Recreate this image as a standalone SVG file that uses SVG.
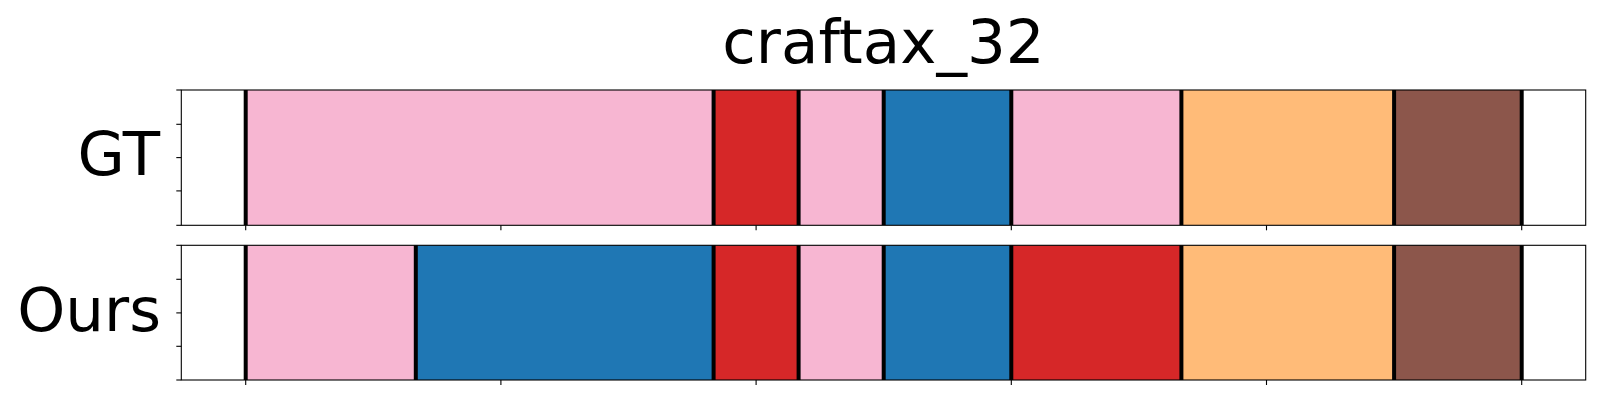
<svg xmlns="http://www.w3.org/2000/svg" width="1600" height="400" viewBox="0 0 1600 400">
<style>
  text { font-family: "DejaVu Sans", "Liberation Sans", sans-serif; fill: #000; font-size: 61.1px; }
  .pink { fill: #f7b6d2; }
  .red { fill: #d62728; }
  .blue { fill: #1f77b4; }
  .orange { fill: #ffbb78; }
  .brown { fill: #8c564b; }
  .sep { stroke: #000; stroke-width: 4; }
  .spine { fill: none; stroke: #000; stroke-width: 1.1; }
  .tick { stroke: #000; stroke-width: 1.1; }
</style>
<rect width="1600" height="400" fill="#fff"/>
<text x="883.5" y="62.7" text-anchor="middle">craftax_32</text>

<g id="gt">
  <rect class="pink" x="245.7" y="90" width="467.9" height="135"/>
  <rect class="red" x="713.6" y="90" width="85" height="135"/>
  <rect class="pink" x="798.6" y="90" width="85.1" height="135"/>
  <rect class="blue" x="883.7" y="90" width="127.6" height="135"/>
  <rect class="pink" x="1011.3" y="90" width="170.1" height="135"/>
  <rect class="orange" x="1181.4" y="90" width="212.7" height="135"/>
  <rect class="brown" x="1394.1" y="90" width="127.6" height="135"/>
  <g class="sep">
    <line x1="245.7" y1="90" x2="245.7" y2="225"/>
    <line x1="713.6" y1="90" x2="713.6" y2="225"/>
    <line x1="798.6" y1="90" x2="798.6" y2="225"/>
    <line x1="883.7" y1="90" x2="883.7" y2="225"/>
    <line x1="1011.3" y1="90" x2="1011.3" y2="225"/>
    <line x1="1181.4" y1="90" x2="1181.4" y2="225"/>
    <line x1="1394.1" y1="90" x2="1394.1" y2="225"/>
    <line x1="1521.7" y1="90" x2="1521.7" y2="225"/>
  </g>
  <rect class="spine" x="181.3" y="90" width="1404.4" height="135.3"/>
  <g class="tick">
    <line x1="176.3" y1="90" x2="181.3" y2="90"/>
    <line x1="176.3" y1="124.3" x2="181.3" y2="124.3"/>
    <line x1="176.3" y1="157.6" x2="181.3" y2="157.6"/>
    <line x1="176.3" y1="190.9" x2="181.3" y2="190.9"/>
    <line x1="176.3" y1="225.3" x2="181.3" y2="225.3"/>
    <line x1="245.7" y1="225.3" x2="245.7" y2="230.3"/>
    <line x1="500.9" y1="225.3" x2="500.9" y2="230.3"/>
    <line x1="756.1" y1="225.3" x2="756.1" y2="230.3"/>
    <line x1="1011.3" y1="225.3" x2="1011.3" y2="230.3"/>
    <line x1="1266.5" y1="225.3" x2="1266.5" y2="230.3"/>
    <line x1="1521.7" y1="225.3" x2="1521.7" y2="230.3"/>
  </g>
  <text x="160" y="175" text-anchor="end">GT</text>
</g>

<g id="ours">
  <rect class="pink" x="245.7" y="245.3" width="170.1" height="134.7"/>
  <rect class="blue" x="415.8" y="245.3" width="297.8" height="134.7"/>
  <rect class="red" x="713.6" y="245.3" width="85" height="134.7"/>
  <rect class="pink" x="798.6" y="245.3" width="85.1" height="134.7"/>
  <rect class="blue" x="883.7" y="245.3" width="127.6" height="134.7"/>
  <rect class="red" x="1011.3" y="245.3" width="170.1" height="134.7"/>
  <rect class="orange" x="1181.4" y="245.3" width="212.7" height="134.7"/>
  <rect class="brown" x="1394.1" y="245.3" width="127.6" height="134.7"/>
  <g class="sep">
    <line x1="245.7" y1="245.3" x2="245.7" y2="380"/>
    <line x1="415.8" y1="245.3" x2="415.8" y2="380"/>
    <line x1="713.6" y1="245.3" x2="713.6" y2="380"/>
    <line x1="798.6" y1="245.3" x2="798.6" y2="380"/>
    <line x1="883.7" y1="245.3" x2="883.7" y2="380"/>
    <line x1="1011.3" y1="245.3" x2="1011.3" y2="380"/>
    <line x1="1181.4" y1="245.3" x2="1181.4" y2="380"/>
    <line x1="1394.1" y1="245.3" x2="1394.1" y2="380"/>
    <line x1="1521.7" y1="245.3" x2="1521.7" y2="380"/>
  </g>
  <rect class="spine" x="181.3" y="245.3" width="1404.4" height="134.7"/>
  <g class="tick">
    <line x1="176.3" y1="245.3" x2="181.3" y2="245.3"/>
    <line x1="176.3" y1="279.3" x2="181.3" y2="279.3"/>
    <line x1="176.3" y1="312.9" x2="181.3" y2="312.9"/>
    <line x1="176.3" y1="346.3" x2="181.3" y2="346.3"/>
    <line x1="176.3" y1="380" x2="181.3" y2="380"/>
    <line x1="245.7" y1="380" x2="245.7" y2="385"/>
    <line x1="500.9" y1="380" x2="500.9" y2="385"/>
    <line x1="756.1" y1="380" x2="756.1" y2="385"/>
    <line x1="1011.3" y1="380" x2="1011.3" y2="385"/>
    <line x1="1266.5" y1="380" x2="1266.5" y2="385"/>
    <line x1="1521.7" y1="380" x2="1521.7" y2="385"/>
  </g>
  <text x="161" y="330.7" text-anchor="end">Ours</text>
</g>
</svg>
